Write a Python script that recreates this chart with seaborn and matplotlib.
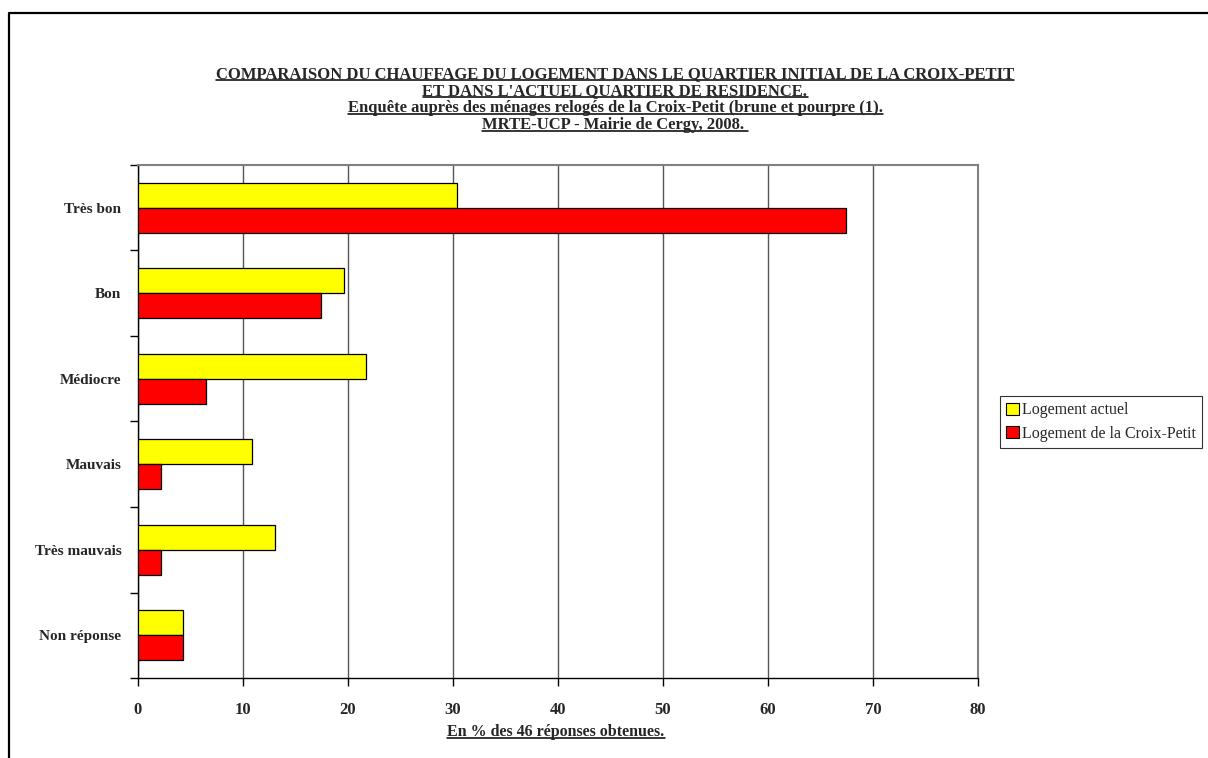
import pandas as pd
import seaborn as sns
import matplotlib.pyplot as plt
from matplotlib.lines import Line2D

categories = ['Très bon', 'Bon', 'Médiocre', 'Mauvais', 'Très mauvais', 'Non réponse']
series = ['Logement actuel', 'Logement de la Croix-Petit']
actuel = [30.4, 19.6, 21.7, 10.9, 13.0, 4.3]
croix_petit = [67.4, 17.4, 6.5, 2.2, 2.2, 4.3]
xticks = [0, 10, 20, 30, 40, 50, 60, 70, 80]

data = pd.DataFrame({
    'Categorie': categories * 2,
    'Serie': [series[0]] * len(categories) + [series[1]] * len(categories),
    'Valeur': actuel + croix_petit,
})

sns.set_style('white')
plt.rcParams['font.family'] = ['Liberation Serif', 'DejaVu Serif']

W, H = 1208, 758
fig = plt.figure(figsize=(W / 100, H / 100), dpi=100)
ax = fig.add_axes([138 / W, 1 - 678 / H, (978 - 138) / W, (678 - 165) / H])

sns.barplot(data=data, y='Categorie', x='Valeur', hue='Serie', order=categories,
            hue_order=series, palette=['#ffff00', '#ff0000'], orient='h',
            width=0.58, edgecolor='black', linewidth=0.9, saturation=1, ax=ax, zorder=3)

ax.set_xlim(0, 80)
ax.set_ylim(len(categories) - 0.5, -0.5)
ax.set_xticks(xticks)
ax.set_xticklabels([str(t) for t in xticks], fontweight='bold', fontsize=12)
ax.xaxis.grid(True, color='#555555', linewidth=1, zorder=0)
ax.set_axisbelow(True)

# ticks between categories, labels at centres
ax.set_yticks([i - 0.5 for i in range(len(categories) + 1)])
ax.set_yticklabels([])
ax.set_yticks(range(len(categories)), minor=True)
ax.set_yticklabels(categories, minor=True, fontweight='bold', fontsize=11)
ax.tick_params(axis='y', which='major', direction='out', length=6, width=1, color='black', left=True)
ax.tick_params(axis='y', which='minor', length=0, pad=12)
ax.tick_params(axis='x', direction='out', length=6, width=1, color='black', bottom=True, pad=11)
ax.set_ylabel('')
ax.set_xlabel('')

for s in ['left', 'bottom']:
    ax.spines[s].set_color('black')
    ax.spines[s].set_linewidth(1)
for s in ['top', 'right']:
    ax.spines[s].set_color('#808080')
    ax.spines[s].set_linewidth(1.5)

handles = [plt.Rectangle((0, 0), 1, 1, facecolor=c, edgecolor='black', linewidth=0.8)
           for c in ['#ffff00', '#ff0000']]
ax.legend(handles, series, loc='center left', bbox_to_anchor=(1000 / W, 1 - 422 / H),
          bbox_transform=fig.transFigure, frameon=True, fancybox=False, edgecolor='black',
          fontsize=11.5, handlelength=0.8, handleheight=0.8, handletextpad=0.15,
          borderpad=0.4, labelspacing=0.45, borderaxespad=0)
ax.get_legend().get_frame().set_linewidth(0.8)

# underlined bold titles (baseline positions in pixels)
titles = [
    ("COMPARAISON DU CHAUFFAGE DU LOGEMENT DANS LE QUARTIER INITIAL DE LA CROIX-PETIT", 78, 12),
    ("ET DANS L'ACTUEL QUARTIER DE RESIDENCE.", 95, 12),
    ("Enquête auprès des ménages relogés de la Croix-Petit (brune et pourpre (1).", 112, 12),
    ("MRTE-UCP - Mairie de Cergy, 2008. ", 129, 12),
    ("En % des 46 réponses obtenues.", 736, 11.5),
]
xcenter = [615, 615, 615, 615, 556]

fig.canvas.draw()
renderer = fig.canvas.get_renderer()
for (txt, yb, fs), xc in zip(titles, xcenter):
    t = fig.text(xc / W, 1 - yb / H, txt, ha='center', va='baseline',
                 fontweight='bold', fontsize=fs)
    bb = t.get_window_extent(renderer).transformed(fig.transFigure.inverted())
    yu = 1 - (yb + 2) / H
    fig.add_artist(Line2D([bb.x0, bb.x1], [yu, yu], color='black', linewidth=1.1,
                          transform=fig.transFigure))

# outer frame (left and top edges)
fig.add_artist(Line2D([9 / W, 9 / W, 1.0], [0.0, 1 - 13 / H, 1 - 13 / H], color='black',
                      linewidth=1.6, transform=fig.transFigure))

fig.savefig('out.png', dpi=100)
